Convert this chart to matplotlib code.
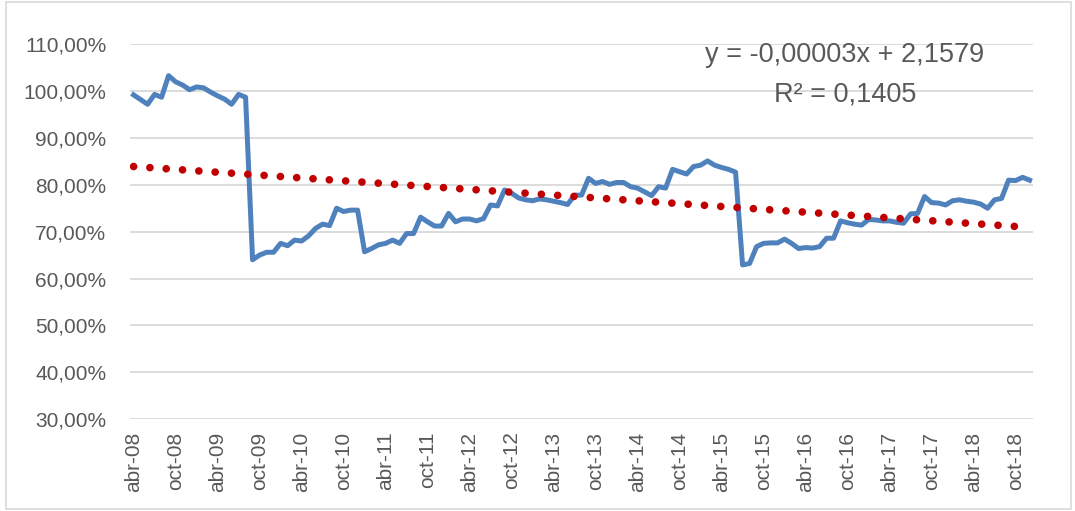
import numpy as np
import matplotlib
matplotlib.use('Agg')
import matplotlib.pyplot as plt
from matplotlib.patches import Rectangle

# monthly values (%), abr-08 .. dic-18
values = [99.2, 98.2, 97.2, 99.3, 98.7, 103.3, 102.0, 101.3, 100.3, 100.9,
          100.7, 99.8, 99.0, 98.3, 97.2, 99.3, 98.7, 64.0, 65.0, 65.6,
          65.6, 67.5, 67.0, 68.2, 68.0, 69.1, 70.7, 71.6, 71.3, 75.0,
          74.3, 74.6, 74.6, 65.7, 66.4, 67.2, 67.5, 68.2, 67.5, 69.6,
          69.6, 73.1, 72.1, 71.2, 71.2, 73.9, 72.1, 72.7, 72.7, 72.3,
          72.8, 75.7, 75.5, 78.9, 78.2, 77.2, 76.8, 76.6, 77.0, 76.8,
          76.5, 76.2, 75.8, 77.8, 77.8, 81.4, 80.3, 80.7, 80.1, 80.5,
          80.5, 79.6, 79.3, 78.5, 77.7, 79.6, 79.3, 83.3, 82.8, 82.3,
          83.9, 84.2, 85.1, 84.2, 83.7, 83.3, 82.7, 62.9, 63.2, 66.8,
          67.5, 67.6, 67.6, 68.4, 67.5, 66.4, 66.6, 66.5, 66.8, 68.6,
          68.6, 72.3, 71.9, 71.6, 71.4, 72.6, 72.5, 72.3, 72.3, 72.0,
          71.8, 73.8, 73.9, 77.5, 76.2, 76.1, 75.7, 76.6, 76.8, 76.5,
          76.3, 75.9, 75.0, 76.8, 77.1, 81.0, 80.9, 81.6, 81.0]

tick_labels = ['abr-08', 'oct-08', 'abr-09', 'oct-09', 'abr-10', 'oct-10',
               'abr-11', 'oct-11', 'abr-12', 'oct-12', 'abr-13', 'oct-13',
               'abr-14', 'oct-14', 'abr-15', 'oct-15', 'abr-16', 'oct-16',
               'abr-17', 'oct-17', 'abr-18', 'oct-18']
y_ticks = [30, 40, 50, 60, 70, 80, 90, 100, 110]
eq_text = 'y = -0,00003x + 2,1579'
r2_text = 'R² = 0,1405'

plt.rcParams['font.family'] = ['Liberation Sans', 'DejaVu Sans']
grey = '#595959'

x = np.arange(len(values))
y = np.array(values)

# linear trend line
trend = np.poly1d(np.polyfit(x, y, 1))(x)

fig = plt.figure(figsize=(10.75, 5.11), dpi=100)
ax = fig.add_axes([0.121, 0.180, 0.840, 0.7333])

ax.plot(x, y, color='#4F81BD', lw=3.6, solid_joinstyle='round', zorder=3)
ax.plot(x, trend, color='#C00000', lw=5.5, linestyle=(0, (0.01, 2.13)),
        dash_capstyle='round', zorder=4)

ax.set_xlim(-0.5, len(values) - 0.5)
ax.set_ylim(30, 110)
ax.set_yticks(y_ticks)
ax.set_yticklabels([('%.2f' % v).replace('.', ',') + '%' for v in y_ticks],
                   fontsize=15, color=grey)
ax.set_xticks(np.arange(0, len(values), 6))
ax.set_xticklabels(tick_labels, rotation=90, fontsize=15, color=grey)
ax.tick_params(length=0, pad=9)
ax.tick_params(axis='y', pad=17)
ax.grid(axis='y', color='#D9D9D9', lw=1.3)
ax.set_axisbelow(True)
for s in ax.spines.values():
    s.set_visible(False)

fig.text(0.786, 0.892, eq_text, ha='center', va='center', fontsize=19.5, color=grey)
fig.text(0.786, 0.816, r2_text, ha='center', va='center', fontsize=19.5, color=grey)

fig.patches.append(Rectangle((0.006, 0.004), 0.99, 0.992, transform=fig.transFigure,
                             fill=False, edgecolor='#D9D9D9', lw=1.2))

fig.savefig('out.png', dpi=100)
plt.close()
